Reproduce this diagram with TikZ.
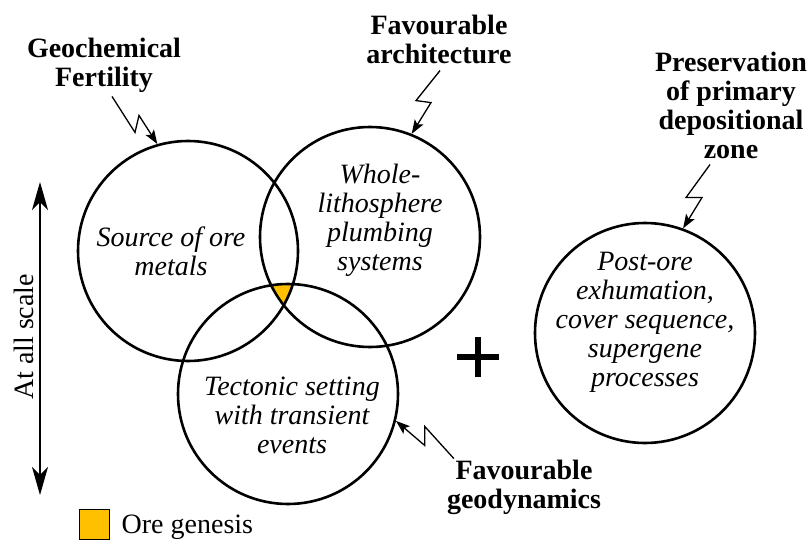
\documentclass[tikz,border=0pt]{standalone}
\usepackage{fontspec}
\setmainfont{Liberation Serif}
\usepackage{tikz}
\usetikzlibrary{arrows.meta,positioning}
\usepackage{xcolor}
\definecolor{oregold}{HTML}{FFC000}

\tikzset{
  oredomain/.style={draw, circle, line width=2.6pt, minimum size=220pt, inner sep=0pt},
  domaintext/.style={align=center, font=\fontsize{28}{29}\selectfont\itshape, inner sep=0pt},
  factor/.style={align=center, font=\fontsize{28}{29}\selectfont\bfseries, inner sep=0pt},
  bolt/.style={line width=1.3pt, -{Stealth[length=14pt,width=10pt,inset=3pt]}},
}

\begin{document}
\begin{tikzpicture}[x=1pt,y=-1pt]
  \useasboundingbox (0,0) rectangle (812,541);
  \coordinate (c1) at (188,251);
  \coordinate (c2) at (370,237);
  \coordinate (c3) at (288,394);
  % common part of the three domains
  \begin{scope}
    \clip (c1) circle[radius=110pt];
    \clip (c2) circle[radius=110pt];
    \fill[oregold] (c3) circle[radius=110pt];
  \end{scope}
  \node[oredomain] (src) at (c1) {};
  \node[oredomain] (plumb) at (c2) {};
  \node[oredomain] (tect) at (c3) {};
  \node[oredomain] (post) at (645,333) {};
  \node[domaintext] (srctxt) at (171,251) {Source of ore\\metals};
  \node[domaintext] (plumbtxt) at (380,220) {Whole-\\lithosphere\\plumbing\\systems};
  \node[domaintext] (tecttxt) at (292,415) {Tectonic setting\\with transient\\events};
  \node[domaintext] (posttxt) at (645,322) {Post-ore\\exhumation,\\cover sequence,\\supergene\\processes};
  % controlling factors
  \node[factor] (fert) at (104,65) {Geochemical\\Fertility};
  \node[factor] (arch) at (439,39) {Favourable\\architecture};
  \node[factor] (keep) at (731,105) {Preservation\\of primary\\depositional\\zone};
  \node[factor] (geodyn) at (524,487) {Favourable\\geodynamics};
  \draw[bolt] ([xshift=8pt,yshift=-4pt]fert.south) -- ++(23,36) -- ++(4,-17) -- (src.106);
  \draw[bolt] ([xshift=1pt,yshift=-7pt]arch.south) -- ++(-24,30) -- ++(15,2) -- (plumb.68);
  \draw[bolt] ([xshift=-21pt,yshift=-6pt]keep.south) -- ++(-24,33) -- ++(16,0) -- (post.70);
  \draw[bolt] ([xshift=7pt,yshift=1pt]geodyn.north west) -- ++(-29,-32) -- ++(0,19) -- (tect.-14);
  % scale axis
  \coordinate (axtop) at (40,182);
  \coordinate (axbot) at (40,495);
  \draw[line width=1.5pt, {Stealth[length=28pt,width=16pt,inset=8pt]}-{Stealth[length=28pt,width=16pt,inset=8pt]}] (axtop) -- (axbot);
  \node[rotate=90, font=\fontsize{28}{29}\selectfont, inner sep=0pt] (scale) at (24,337) {At all scale};
  % plus sign
  \coordinate (plus) at (478,357);
  \draw[line width=5.5pt] ([xshift=-21pt]plus) -- ([xshift=21pt]plus)
    ([yshift=20pt]plus) -- ([yshift=-20pt]plus);
  % legend
  \node[draw, fill=oregold, line width=1pt, minimum size=30pt, inner sep=0pt] (key) at (94,524) {};
  \node[font=\fontsize{28}{29}\selectfont, inner sep=0pt, right=12pt of key, yshift=-3pt] (keytxt) {Ore genesis};
\end{tikzpicture}
\end{document}
